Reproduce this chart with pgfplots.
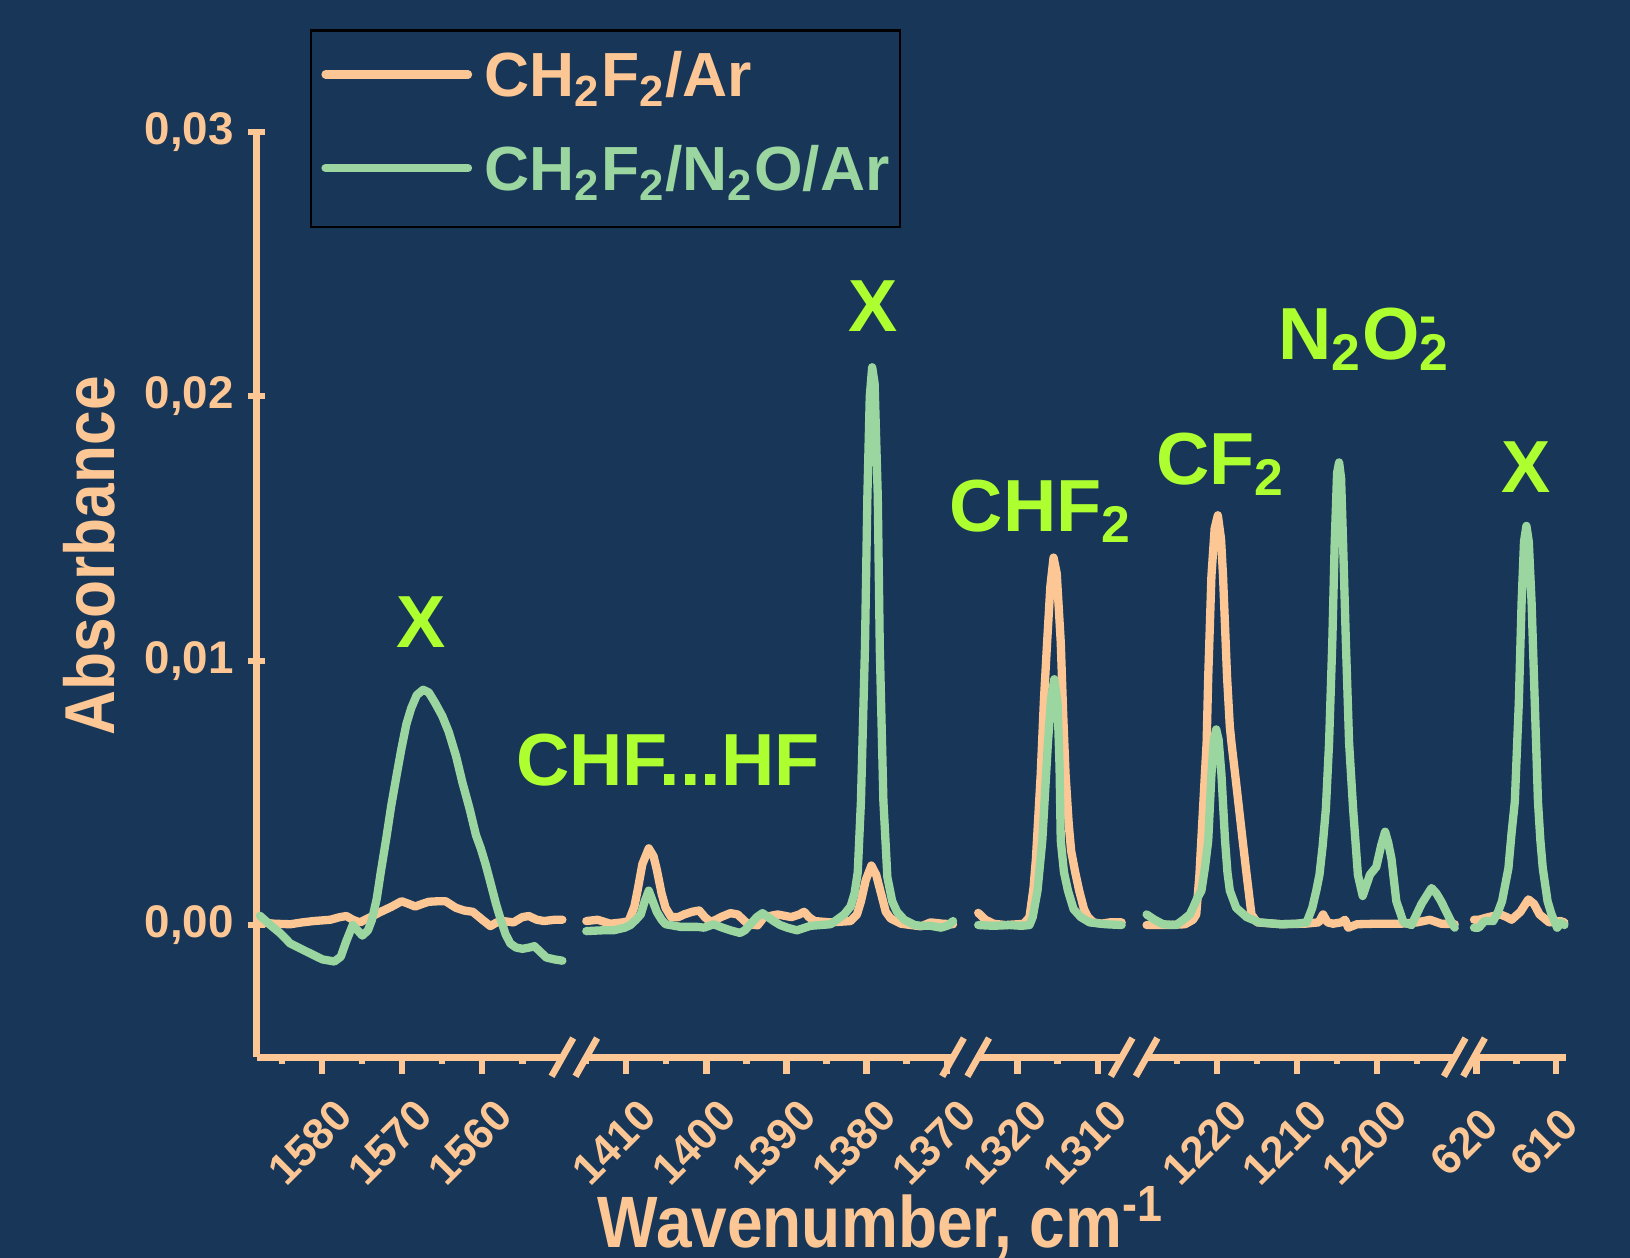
\documentclass[border=0pt]{standalone}
\usepackage{fontspec}
\setmainfont{Liberation Sans}
\newfontfamily\condfont{Liberation Sans}[FakeStretch=0.88]
\usepackage{pgfplots}
\pgfplotsset{compat=1.18}
\definecolor{bg}{HTML}{183657}
\definecolor{peach}{HTML}{FDC795}
\definecolor{gline}{HTML}{9BD6A0}
\definecolor{lime}{HTML}{ADFF2F}

\pgfplotsset{
  seg/.style={
    scale only axis, height=222.5pt, ymin=-0.005, ymax=0.03,
    x dir=reverse, clip=false,
    axis x line=bottom, axis line style={-, draw=peach, line width=1.6pt},
    tick align=outside, major tick length=4pt, minor tick length=1.6pt,
    major tick style={peach, line width=1.5pt},
    minor tick style={peach, line width=1.5pt},
    /pgf/number format/1000 sep={},
    /pgf/number format/assume math mode=true,
    tick label style={font=\bfseries\fontsize{10.5}{12}\selectfont, text=peach},
    xticklabel style={yshift=-16.5pt, xshift=-3pt, rotate=45, anchor=center},
    every axis plot/.append style={line width=2pt, line join=round, line cap=round, mark=none},
  },
}
\tikzset{ann/.style={text=lime, font=\bfseries\fontsize{17.75}{20}\selectfont, anchor=base}}

\begin{document}
\begin{tikzpicture}
\fill[bg] (0pt,-48.25pt) rectangle (392pt,254.25pt);

% ---------- segment 1 ----------
\begin{axis}[seg, at={(61.75pt,0pt)}, anchor=south west, width=73.5pt,
  xmin=1550.0, xmax=1588.2, axis y line=left, axis line style={-},
  every outer y axis line/.append style={-}, y axis line style={-},
  xtick={1580,1570,1560}, minor xtick={1585,1575,1565,1555},
  ytick={0,0.01,0.02,0.03}, minor ytick={0.005,0.015,0.025},
  scaled y ticks=false,
  yticklabel style={font=\bfseries\fontsize{11}{12}\selectfont, /pgf/number format/.cd, fixed, fixed zerofill, precision=2, use comma},
  legend style={at={(0.1735,1.111)}, anchor=north west, draw=black, line width=0.6pt,
    fill=bg, inner xsep=2.5pt, inner ysep=4.95pt, row sep=7.7pt,
    font=\bfseries\fontsize{15}{18}\selectfont, cells={anchor=base west},
    nodes={inner sep=0pt, text height=11pt, text depth=3.8pt},
    /tikz/every odd column/.append style={column sep=3pt}},
  legend image code/.code={\draw[#1] (0pt,5.4pt) -- (34.25pt,5.4pt);},
]
\addplot[peach] table {
1587.8 0.0001
1586.0 0.00005
1584.0 0.00003
1582.5 0.0001
1581.1 0.00015
1579.0 0.0002
1577.8 0.0003
1577.0 0.00034
1576.2 0.0002
1575.3 0.0001
1574.0 0.0003
1572.7 0.0005
1571.3 0.0007
1570.1 0.0009
1569.2 0.0008
1568.4 0.0007
1567.5 0.0008
1566.7 0.00088
1565.5 0.0009
1564.6 0.0009
1563.3 0.00065
1562.3 0.00055
1561.2 0.0005
1560.0 0.0002
1559.0 -0.00004
1558.2 0.0001
1557.4 0.00015
1556.1 0.0001
1555.0 0.0003
1554.2 0.00034
1553.2 0.0002
1552.3 0.00015
1551.0 0.0002
1550.0 0.0002
};
\addlegendentry{\textcolor{peach}{CH\textsubscript{2}F\textsubscript{2}/Ar}}
\addplot[gline] table {
1587.8 0.00035
1586.5 0.0000
1585.3 -0.0003
1584.0 -0.0007
1582.0 -0.00100
1580.0 -0.00130
1578.5 -0.00138
1577.7 -0.0012
1577.0 -0.0006
1576.2 0.00000
1575.6 -0.0002
1575.0 -0.0004
1574.3 -0.0002
1573.8 0.0002
1573.2 0.0010
1572.7 0.0020
1572.0 0.0033
1571.4 0.0045
1570.7 0.0057
1570.1 0.0067
1569.5 0.0076
1568.9 0.0082
1568.2 0.0087
1567.4 0.0089
1566.7 0.0088
1565.9 0.0084
1565.0 0.0079
1564.2 0.0073
1563.3 0.0064
1562.5 0.0054
1561.6 0.0044
1560.8 0.0034
1560.2 0.0029
1559.6 0.0023
1558.9 0.0015
1558.3 0.0008
1557.7 0.0002
1557.1 -0.00035
1556.5 -0.0007
1555.8 -0.00085
1555.0 -0.0009
1554.1 -0.00085
1553.5 -0.0008
1552.8 -0.0010
1552.0 -0.00123
1551.0 -0.0013
1550.0 -0.00135
};
\addlegendentry{\textcolor{gline}{CH\textsubscript{2}F\textsubscript{2}/N\textsubscript{2}O/Ar}}
\node[ann] at (axis cs:1567.7,0.0105) {X};
\end{axis}

% ---------- segment 2 ----------
\begin{axis}[seg, at={(141pt,0pt)}, anchor=south west, width=88.2pt,
  xmin=1369.2, xmax=1415.0, axis y line=none, ytick=\empty,
  xtick={1410,1400,1390,1380,1370}, minor xtick={1415,1405,1395,1385,1375}]
\addplot[peach] table {
1415.0 0.00015
1413.6 0.0002
1412.0 0.00005
1410.5 0.0001
1409.7 0.00015
1409.0 0.0007
1408.6 0.0013
1408.0 0.0023
1407.2 0.0029
1406.6 0.0026
1406.2 0.0021
1405.6 0.0012
1405.1 0.00065
1404.4 0.0003
1403.5 0.0003
1402.8 0.0004
1401.8 0.0005
1400.9 0.00055
1400.2 0.0003
1399.5 0.00012
1398.8 0.0002
1398.2 0.0003
1397.0 0.00045
1396.1 0.0004
1395.4 0.0002
1394.8 0.00003
1393.6 -0.00001
1392.8 0.0003
1391.1 0.0004
1389.4 0.0003
1388.4 0.0004
1387.8 0.0005
1387.2 0.0003
1386.5 0.00015
1384.5 0.0001
1382.0 0.00015
1381.2 0.0004
1380.7 0.0009
1380.1 0.0017
1379.4 0.00225
1378.8 0.0019
1378.2 0.0012
1377.6 0.0005
1377.0 0.00025
1375.7 0.00005
1373.2 -0.00005
1372.0 0.0001
1370.5 0.00005
1369.2 0.00003
};
\addplot[gline] table {
1415.0 -0.00023
1413.0 -0.0002
1411.6 -0.0002
1410.2 -0.0001
1409.5 0.0000
1408.8 0.0002
1408.2 0.0004
1407.7 0.0009
1407.2 0.0013
1406.7 0.0009
1406.2 0.0005
1405.6 0.0002
1405.1 0.00003
1403.2 -0.00007
1401.1 -0.00007
1400.3 -0.0001
1399.1 0.00003
1398.0 -0.0001
1397.0 -0.0002
1395.8 -0.0003
1395.2 -0.0002
1394.5 0.00003
1393.7 0.0003
1393.0 0.00045
1392.3 0.0003
1391.6 0.00015
1390.8 0.0000
1389.9 -0.0001
1388.7 -0.0002
1387.0 -0.00003
1384.5 0.00003
1383.7 0.0002
1382.8 0.0004
1382.0 0.0007
1381.5 0.0012
1381.1 0.0020
1380.7 0.0047
1380.2 0.0105
1379.9 0.0162
1379.6 0.0200
1379.3 0.0211
1379.0 0.0205
1378.6 0.0162
1378.35 0.0105
1377.9 0.0047
1377.4 0.0018
1376.8 0.0009
1376.2 0.0005
1375.3 0.0002
1374.0 0.0000
1373.2 -0.00003
1372.0 -0.00003
1370.7 -0.0001
1369.7 0.0000
1369.2 0.00015
};
\node[ann] at (axis cs:1404.8,0.00527) {CHF...HF};
\node[ann] at (axis cs:1379.2,0.02245) {X};
\end{axis}

% ---------- segment 3 ----------
\begin{axis}[seg, at={(235.25pt,0pt)}, anchor=south west, width=34.5pt,
  xmin=1307.0, xmax=1324.9, axis y line=none, ytick=\empty,
  xtick={1320,1310}, minor xtick={1315}]
\addplot[peach] table {
1324.9 0.00046
1324.0 0.0002
1323.0 0.00005
1321.5 0.0000
1320.0 0.00003
1319.2 0.00005
1318.5 0.0003
1318.0 0.0014
1317.7 0.0025
1317.1 0.0057
1316.7 0.0085
1316.3 0.0107
1315.9 0.0128
1315.5 0.0139
1315.1 0.0133
1314.6 0.0107
1314.3 0.0080
1314.0 0.0057
1313.6 0.0038
1313.3 0.0028
1312.8 0.0020
1312.3 0.0013
1311.7 0.0006
1311.2 0.0003
1310.5 0.0001
1309.5 0.00005
1308.5 0.0001
1307.0 0.0001
};
\addplot[gline] table {
1324.9 0.0000
1323.0 -0.00003
1321.0 0.0000
1319.5 -0.00003
1318.5 0.0000
1318.1 0.0003
1317.5 0.0013
1316.9 0.0032
1316.2 0.0069
1315.8 0.0086
1315.4 0.0093
1315.0 0.0084
1314.75 0.0060
1314.6 0.0032
1314.2 0.0020
1313.7 0.0013
1313.0 0.0006
1312.1 0.0003
1311.0 0.0001
1309.0 0.00003
1307.0 0.0000
};
\node[ann] at (axis cs:1317.05,0.0149) {CHF\textsubscript{2}};
\end{axis}

% ---------- segment 4 ----------
\begin{axis}[seg, at={(275.75pt,0pt)}, anchor=south west, width=74.1pt,
  xmin=1190.3, xmax=1228.8, axis y line=none, ytick=\empty,
  xtick={1220,1210,1200}, minor xtick={1225,1215,1205,1195}]
\addplot[peach] table {
1228.8 0.0000
1226.0 0.0000
1224.0 0.00003
1223.0 0.0002
1222.6 0.0004
1222.2 0.0019
1221.75 0.0044
1221.3 0.0069
1221.1 0.0094
1220.7 0.0132
1220.3 0.0150
1219.9 0.0155
1219.5 0.0146
1219.25 0.0132
1218.75 0.0094
1218.4 0.0075
1218.2 0.0069
1217.7 0.0056
1217.25 0.0044
1216.8 0.0032
1216.3 0.0019
1215.7 0.0004
1215.0 0.0001
1212.0 0.00003
1209.0 0.00005
1207.3 0.0001
1206.75 0.0004
1206.2 0.0001
1205.5 0.00005
1204.5 0.0001
1204.0 0.0002
1203.6 -0.0001
1202.5 0.00003
1200.0 0.00005
1197.0 0.00005
1195.0 0.0001
1193.4 0.0002
1192.0 0.00005
1190.3 0.00003
};
\addplot[gline] table {
1228.8 0.0004
1227.8 0.0002
1226.75 0.00003
1225.1 0.0000
1224.2 0.0002
1223.4 0.0004
1223.0 0.00065
1222.5 0.0010
1221.95 0.0013
1221.5 0.0022
1221.1 0.0032
1220.7 0.0057
1220.4 0.0070
1220.1 0.0074
1219.8 0.0070
1219.45 0.0057
1219.0 0.0032
1218.7 0.0020
1218.4 0.0013
1217.6 0.00065
1216.3 0.0003
1214.7 0.0001
1212.0 0.00003
1210.0 0.00005
1208.8 0.0001
1208.1 0.00065
1207.6 0.0013
1207.2 0.0019
1206.8 0.0030
1206.4 0.0044
1206.0 0.0069
1205.6 0.01068
1205.3 0.01444
1205.0 0.0171
1204.75 0.0175
1204.5 0.0169
1204.25 0.01444
1203.9 0.01068
1203.5 0.0069
1203.0 0.0044
1202.4 0.0019
1201.8 0.0011
1200.9 0.0019
1200.1 0.0022
1199.5 0.0030
1199.0 0.00353
1198.6 0.0031
1198.2 0.0025
1197.6 0.0009
1196.7 0.0001
1195.7 0.0000
1194.45 0.0008
1193.2 0.0014
1192.6 0.0012
1192.0 0.0009
1190.7 0.0001
1190.3 -0.0001
};
\node[ann] at (axis cs:1219.5,0.01667) {CF\textsubscript{2}};
\node[ann] at (axis cs:1201.6,0.02139) {N\textsubscript{2}O\rlap{\textsuperscript{-}}\textsubscript{2}};
\end{axis}

% ---------- segment 5 ----------
\begin{axis}[seg, at={(354.5pt,0pt)}, anchor=south west, width=22.1pt,
  xmin=608.8, xmax=620.3, axis y line=none, ytick=\empty,
  xtick={620,610}, minor xtick={615}]
\addplot[peach] table {
620.3 0.0002
619.7 0.0002
618.5 0.0003
617.0 0.0004
616.2 0.0003
615.6 0.0002
614.5 0.0005
613.5 0.00097
612.8 0.0008
612.1 0.0004
610.9 0.0001
609.5 0.00015
609.0 0.0001
};
\addplot[gline] table {
620.3 -0.0001
619.7 -0.0001
619.0 0.00015
617.9 0.00015
617.3 0.0005
616.8 0.0009
616.0 0.00215
615.6 0.0035
615.2 0.00466
614.7 0.0084
614.35 0.0122
614.05 0.0145
613.75 0.0151
613.45 0.0145
613.1 0.0122
612.7 0.0084
612.3 0.00466
612.0 0.0032
611.7 0.00215
611.1 0.0009
610.6 0.0004
610.25 0.00015
609.9 -0.0001
609.4 0.0001
609.0 0.0000
};
\node[ann] at (axis cs:613.8,0.01635) {X};
\end{axis}

% break marks
\foreach \bx in {135.25,141,229.2,235.25,269.75,275.75,349.85,354.5}{
  \draw[peach, line width=1.6pt] (\bx pt-2.6pt,-4.6pt) -- (\bx pt+2.6pt,4.6pt);
}

% axis titles
\node[rotate=90, anchor=base, text=peach, font=\condfont\bfseries\fontsize{17}{20}\selectfont] at (27.5pt,120.5pt) {Absorbance};
\node[anchor=base, text=peach, font=\condfont\bfseries\fontsize{17.5}{20}\selectfont] at (211.9pt,-45.75pt) {Wavenumber, cm\textsuperscript{-1}};

\pgfresetboundingbox
\useasboundingbox (0pt,-48.25pt) rectangle (392pt,254.25pt);
\end{tikzpicture}
\end{document}
